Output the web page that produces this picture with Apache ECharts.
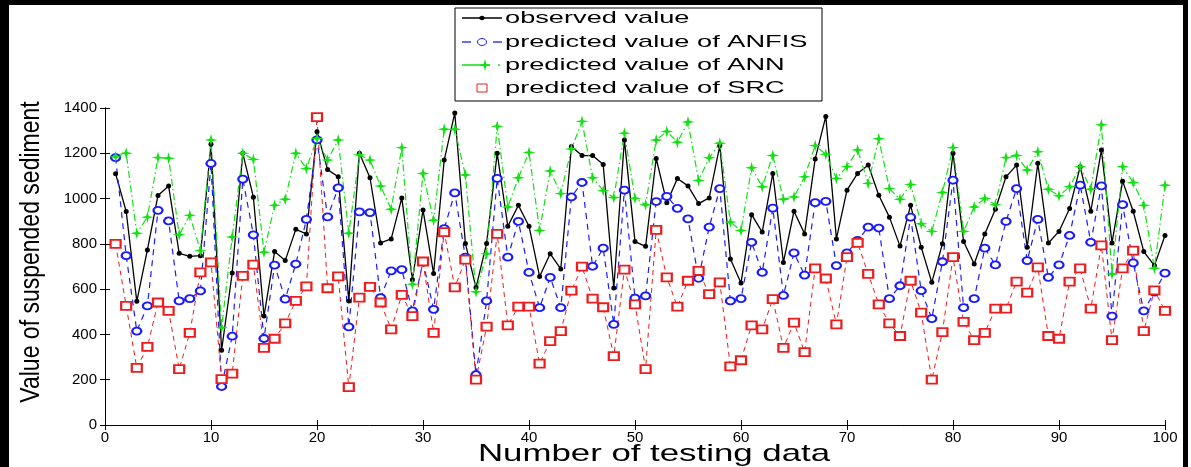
<!DOCTYPE html>
<html>
<head>
<meta charset="utf-8">
<title>Suspended sediment: observed vs predicted</title>
<script src="https://cdn.jsdelivr.net/npm/echarts@6/dist/echarts.min.js"></script>
<style>
  html, body { margin: 0; padding: 0; background: #fff; }
  #chart { width: 1191px; height: 467px; }
</style>
</head>
<body>
<div id="chart"></div>
<script>
// Testing-sample numbers and the four value series
const sampleNo = [
  1,2,3,4,5,6,7,8,9,10,11,12,13,14,15,16,17,18,19,20,
  21,22,23,24,25,26,27,28,29,30,31,32,33,34,35,36,37,38,39,40,
  41,42,43,44,45,46,47,48,49,50,51,52,53,54,55,56,57,58,59,60,
  61,62,63,64,65,66,67,68,69,70,71,72,73,74,75,76,77,78,79,80,
  81,82,83,84,85,86,87,88,89,90,91,92,93,94,95,96,97,98,99,100
];

const observed = [
  1110,943,546,773,1014,1056,758,745,748,1240,330,671,1200,1006,481,766,726,864,844,1295,
  1128,1096,548,1200,1092,804,822,1003,641,950,669,1170,1378,802,607,802,1200,878,970,878,
  656,756,689,1230,1190,1190,1150,605,1259,810,789,1177,982,1089,1056,978,1003,1234,733,627,
  929,852,1111,718,944,844,1175,1363,822,1037,1111,1148,1015,918,790,970,785,630,800,1200,
  810,711,844,953,1096,1148,785,1156,804,855,956,1141,944,1215,804,1077,944,766,704,837
];

const anfis = [
  1181,748,415,526,948,901,548,558,592,1155,170,392,1086,840,382,706,556,711,908,1259,
  919,1047,433,941,938,563,681,686,504,721,511,867,1025,741,222,548,1089,741,899,674,
  518,652,518,1007,1071,701,781,444,1037,560,570,987,1010,957,910,648,874,1044,548,558,
  807,674,958,572,760,662,982,988,704,760,815,874,870,558,615,918,593,470,721,1081,
  518,558,781,707,899,1044,726,908,652,707,837,1059,807,1056,481,973,716,504,587,671
];

const ann = [
  1185,1200,847,918,1181,1178,840,926,770,1259,430,830,1200,1173,763,970,997,1200,1133,1265,
  1170,1259,847,1193,1170,1055,953,1225,622,1111,904,1306,1306,1104,588,756,1319,963,1092,1204,
  859,1122,1022,1219,1341,1092,1035,1005,1289,1001,973,1259,1296,1249,1338,1080,1180,1244,896,859,
  1136,1052,1190,997,1007,1096,1234,1196,1089,1141,1215,1067,1264,1044,997,1062,889,855,1027,1225,
  855,963,1000,973,1181,1190,1126,1207,1041,1012,1052,1141,1041,1326,667,1141,1071,970,692,1059
];

const src = [
  800,526,252,345,541,504,247,407,674,718,203,227,659,708,341,381,449,548,612,1360,
  604,656,167,563,610,541,422,575,481,722,407,852,608,730,200,434,844,440,523,523,
  271,370,415,593,699,558,520,304,686,533,247,862,652,523,637,681,578,630,259,286,
  440,422,556,341,452,322,692,647,444,741,804,667,533,449,393,637,496,200,410,741,
  455,375,407,514,514,633,585,696,393,381,633,692,514,793,375,692,770,415,595,504
];

// Axis ticks
const xTicks = [0,10,20,30,40,50,60,70,80,90,100];
const yTicks = [0,200,400,600,800,1000,1200,1400];

const seriesNames = [
  'observed value',
  'predicted value of ANFIS',
  'predicted value of ANN',
  'predicted value of SRC'
];

const pairs = vals => sampleNo.map((n, k) => [n, vals[k]]);

const BLACK = '#000000', BLUE = '#1a1aff', GREEN = '#12e012', RED = '#ee1c1c';
const STAR = 'path://M10 0 L12 8 L20 10 L12 12 L10 20 L8 12 L0 10 L8 8 Z';
const FONT = '"Liberation Sans", Arial, Helvetica, sans-serif';
const STRETCH = 1.45;
const LEGEND_STRETCH = 1.6;

const chart = echarts.init(document.getElementById('chart'), null, { renderer: 'canvas' });

const axisCommon = {
  type: 'value',
  axisLine: { show: true, lineStyle: { color: '#000', width: 1 } },
  axisTick: { show: true, inside: true, length: 5, lineStyle: { color: '#000', width: 1 } },
  splitLine: { show: false }
};
const plainNumber = v => String(v);

// legend rows (drawn as graphics so the text keeps the wide face of the figure)
const legendLeft = 455, legendTop = 8, legendW = 367, legendH = 93;
const rowY = [18, 42, 65, 88];
const legendItems = [];
legendItems.push({
  type: 'rect', shape: { x: legendLeft, y: legendTop, width: legendW, height: legendH },
  style: { fill: '#fff', stroke: '#000', lineWidth: 1 }, z: 10
});
// observed: solid line with dot
legendItems.push({ type: 'line', shape: { x1: 462, y1: rowY[0], x2: 502, y2: rowY[0] },
  style: { stroke: BLACK, lineWidth: 1.3 }, z: 11 });
legendItems.push({ type: 'ellipse', shape: { cx: 482, cy: rowY[0], rx: 2.8, ry: 2.3 },
  style: { fill: BLACK }, z: 12 });
// ANFIS: dashed line with open circle
legendItems.push({ type: 'line', shape: { x1: 462, y1: rowY[1], x2: 471, y2: rowY[1] },
  style: { stroke: BLUE, lineWidth: 1.3 }, z: 11 });
legendItems.push({ type: 'line', shape: { x1: 493, y1: rowY[1], x2: 502, y2: rowY[1] },
  style: { stroke: BLUE, lineWidth: 1.3 }, z: 11 });
legendItems.push({ type: 'ellipse', shape: { cx: 482, cy: rowY[1], rx: 4.5, ry: 3.5 },
  style: { fill: '#fff', stroke: BLUE, lineWidth: 1 }, z: 12 });
// ANN: dash-dot line with star
legendItems.push({ type: 'line', shape: { x1: 462, y1: rowY[2], x2: 490, y2: rowY[2] },
  style: { stroke: GREEN, lineWidth: 1.5 }, z: 11 });
legendItems.push({ type: 'line', shape: { x1: 498, y1: rowY[2], x2: 500, y2: rowY[2] },
  style: { stroke: GREEN, lineWidth: 1.5 }, z: 11 });
legendItems.push({ type: 'polygon',
  shape: { points: [[485,rowY[2]-6],[486.3,rowY[2]-1.3],[491,rowY[2]],[486.3,rowY[2]+1.3],[485,rowY[2]+6],[483.7,rowY[2]+1.3],[479,rowY[2]],[483.7,rowY[2]-1.3]] },
  style: { fill: GREEN }, z: 12 });
// SRC: open square
legendItems.push({ type: 'rect', shape: { x: 477, y: rowY[3] - 4, width: 10, height: 8 },
  style: { fill: '#fff', stroke: RED, lineWidth: 1 }, z: 12 });
seriesNames.forEach((name, k) => {
  legendItems.push({
    type: 'text', x: 505, y: rowY[k], scaleX: LEGEND_STRETCH, z: 12,
    style: {
      text: name, fontSize: 17, fontFamily: FONT, fill: '#000',
      textAlign: 'left', align: 'left', textVerticalAlign: 'middle', verticalAlign: 'middle'
    }
  });
});

const option = {
  backgroundColor: '#ffffff',
  animation: false,
  grid: { left: 105, right: 26, top: 108, bottom: 42, containLabel: false },
  xAxis: [
    Object.assign({}, axisCommon, {
      position: 'bottom',
      min: xTicks[0], max: xTicks[xTicks.length - 1], interval: xTicks[1] - xTicks[0],
      axisLabel: { color: '#000', fontSize: 15, fontFamily: FONT, margin: 5, formatter: plainNumber }
    }),
    Object.assign({}, axisCommon, {
      position: 'top',
      min: xTicks[0], max: xTicks[xTicks.length - 1], interval: xTicks[1] - xTicks[0],
      axisLine: { show: false },
      axisLabel: { show: false }
    })
  ],
  yAxis: [
    Object.assign({}, axisCommon, {
      position: 'left',
      min: yTicks[0], max: yTicks[yTicks.length - 1], interval: yTicks[1] - yTicks[0],
      axisLabel: { color: '#000', fontSize: 15, fontFamily: FONT, margin: 8, formatter: plainNumber }
    }),
    Object.assign({}, axisCommon, {
      position: 'right',
      min: yTicks[0], max: yTicks[yTicks.length - 1], interval: yTicks[1] - yTicks[0],
      axisLabel: { show: false }
    })
  ],
  series: [
    {
      name: seriesNames[0], type: 'line', data: pairs(observed),
      symbol: 'circle', symbolSize: 5,
      lineStyle: { color: BLACK, width: 1.3, type: 'solid' },
      itemStyle: { color: BLACK }
    },
    {
      name: seriesNames[1], type: 'line', data: pairs(anfis),
      symbol: 'emptyCircle', symbolSize: [9, 7],
      lineStyle: { color: BLUE, width: 1.2, type: [6, 5] },
      itemStyle: { color: BLUE, borderColor: BLUE, borderWidth: 1 }
    },
    {
      name: seriesNames[2], type: 'line', data: pairs(ann),
      symbol: STAR, symbolSize: [13, 12],
      lineStyle: { color: GREEN, width: 1.2, type: [7, 3, 1.5, 3] },
      itemStyle: { color: GREEN }
    },
    {
      name: seriesNames[3], type: 'line', data: pairs(src),
      symbol: 'emptyRect', symbolSize: [10, 8],
      lineStyle: { color: RED, width: 1, type: [5, 4] },
      itemStyle: { color: RED, borderColor: RED, borderWidth: 1 }
    }
  ],
  graphic: [
    // figure frame
    { type: 'rect', shape: { x: 0, y: 0, width: 9, height: 467 }, style: { fill: '#000' }, z: 20 },
    { type: 'rect', shape: { x: 0, y: 0, width: 1188, height: 5 }, style: { fill: '#000' }, z: 20 },
    { type: 'rect', shape: { x: 1183, y: 0, width: 5, height: 467 }, style: { fill: '#000' }, z: 20 },
    // axis titles
    {
      type: 'text', x: 654, y: 454, scaleX: STRETCH, z: 12,
      style: {
        text: 'Number of testing data', fontSize: 24, fontFamily: FONT, fill: '#000',
        textAlign: 'center', align: 'center', textVerticalAlign: 'middle', verticalAlign: 'middle'
      }
    },
    {
      type: 'text', x: 31, y: 252, rotation: Math.PI / 2, scaleY: 1.2, z: 12,
      style: {
        text: 'Value of suspended sediment', fontSize: 23, fontFamily: FONT, fill: '#000',
        textAlign: 'center', align: 'center', textVerticalAlign: 'middle', verticalAlign: 'middle'
      }
    }
  ].concat(legendItems)
};

chart.setOption(option);
</script>
</body>
</html>
